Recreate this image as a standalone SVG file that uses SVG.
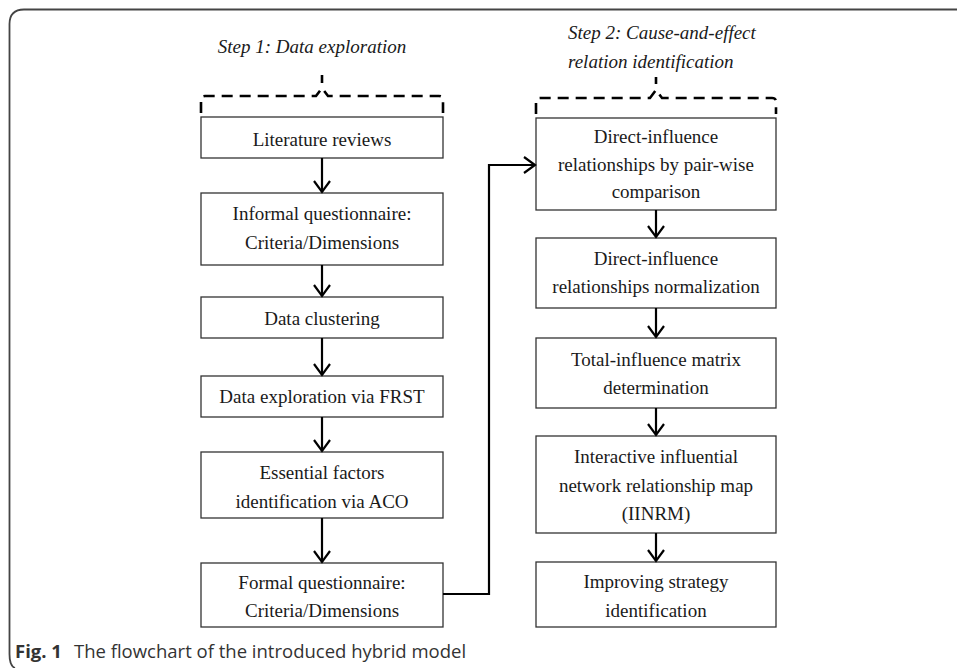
<svg xmlns="http://www.w3.org/2000/svg" width="957" height="668" viewBox="0 0 957 668">
<style>
.box{fill:#fff;stroke:#333;stroke-width:1.3}
.t{font-family:"Liberation Serif","Times New Roman",serif;font-size:19px;fill:#1a1a1a;text-anchor:middle}
.ti{font-family:"Liberation Serif","Times New Roman",serif;font-size:19px;font-style:italic;fill:#1a1a1a}
.c{fill:none;stroke:#000;stroke-width:2.2}
.br{fill:none;stroke:#000;stroke-width:2.6;stroke-dasharray:11 7}
.cap{font-family:"Open Sans","Noto Sans",sans-serif;font-size:18.5px;fill:#333}
</style>
<defs>
<marker id="ah" markerWidth="14" markerHeight="20" viewBox="0 0 14 20" refX="12" refY="10" orient="auto" markerUnits="userSpaceOnUse">
<path d="M1,2 L12,10 L1,18" fill="none" stroke="#000" stroke-width="2.2"/>
</marker>
</defs>
<rect width="957" height="668" fill="#fff"/>
<path d="M957,9.5 H24 Q9.5,9.5 9.5,24 V654 Q9.5,666 15,668" fill="none" stroke="#444" stroke-width="1.8"/>

<g id="title1"><text class="ti" x="312" y="53" text-anchor="middle">Step 1: Data exploration</text></g>
<g id="title2"><text class="ti" x="568" y="39">Step 2: Cause-and-effect</text><text class="ti" x="568" y="68">relation identification</text></g>

<g id="brackets">
<path class="br" d="M201,113 V100 Q201,96 205,96 H316 L322,88 L328,96 H439 Q443,96 443,100 V113"/>
<path d="M322,75 V83" stroke="#000" stroke-width="2.6"/>
<path class="br" d="M536,114 V102 Q536,98 540,98 H650 L656,90 L662,98 H772 Q776,98 776,102 V114"/>
<path d="M656,77 V84" stroke="#000" stroke-width="2.6"/>
</g>

<g id="n1"><rect class="box" x="201" y="117" width="242" height="41"/><text class="t" x="322" y="146">Literature reviews</text></g>
<g id="n2"><rect class="box" x="201" y="193" width="242" height="72"/><text class="t" x="322" y="220">Informal questionnaire:</text><text class="t" x="322" y="249">Criteria/Dimensions</text></g>
<g id="n3"><rect class="box" x="201" y="297" width="242" height="41"/><text class="t" x="322" y="325">Data clustering</text></g>
<g id="n4"><rect class="box" x="201" y="376" width="242" height="41"/><text class="t" x="322" y="403">Data exploration via FRST</text></g>
<g id="n5"><rect class="box" x="201" y="452" width="242" height="66"/><text class="t" x="322" y="479">Essential factors</text><text class="t" x="322" y="508">identification via ACO</text></g>
<g id="n6"><rect class="box" x="201" y="563" width="242" height="64"/><text class="t" x="322" y="589">Formal questionnaire:</text><text class="t" x="322" y="617">Criteria/Dimensions</text></g>

<g id="m1"><rect class="box" x="536" y="118" width="240" height="92"/><text class="t" x="656" y="143">Direct-influence</text><text class="t" x="656" y="170.5">relationships by pair-wise</text><text class="t" x="656" y="198">comparison</text></g>
<g id="m2"><rect class="box" x="536" y="238" width="240" height="70"/><text class="t" x="656" y="265">Direct-influence</text><text class="t" x="656" y="293">relationships normalization</text></g>
<g id="m3"><rect class="box" x="536" y="338" width="240" height="70"/><text class="t" x="656" y="366">Total-influence matrix</text><text class="t" x="656" y="394">determination</text></g>
<g id="m4"><rect class="box" x="536" y="436" width="240" height="97"/><text class="t" x="656" y="463">Interactive influential</text><text class="t" x="656" y="492">network relationship map</text><text class="t" x="656" y="520">(IINRM)</text></g>
<g id="m5"><rect class="box" x="536" y="562" width="240" height="65"/><text class="t" x="656" y="588">Improving strategy</text><text class="t" x="656" y="617">identification</text></g>

<g id="connectors">
<path class="c" marker-end="url(#ah)" d="M322,158 V192"/>
<path class="c" marker-end="url(#ah)" d="M322,265 V296"/>
<path class="c" marker-end="url(#ah)" d="M322,338 V375"/>
<path class="c" marker-end="url(#ah)" d="M322,417 V451"/>
<path class="c" marker-end="url(#ah)" d="M322,518 V562"/>
<path class="c" marker-end="url(#ah)" d="M443,594 H489 V165 H535"/>
<path class="c" marker-end="url(#ah)" d="M656,210 V237"/>
<path class="c" marker-end="url(#ah)" d="M656,308 V337"/>
<path class="c" marker-end="url(#ah)" d="M656,408 V435"/>
<path class="c" marker-end="url(#ah)" d="M656,533 V561"/>
</g>

<g id="caption"><text class="cap" y="658"><tspan x="15" font-weight="bold">Fig. 1</tspan><tspan x="74">The flowchart of the introduced hybrid model</tspan></text></g>
</svg>
